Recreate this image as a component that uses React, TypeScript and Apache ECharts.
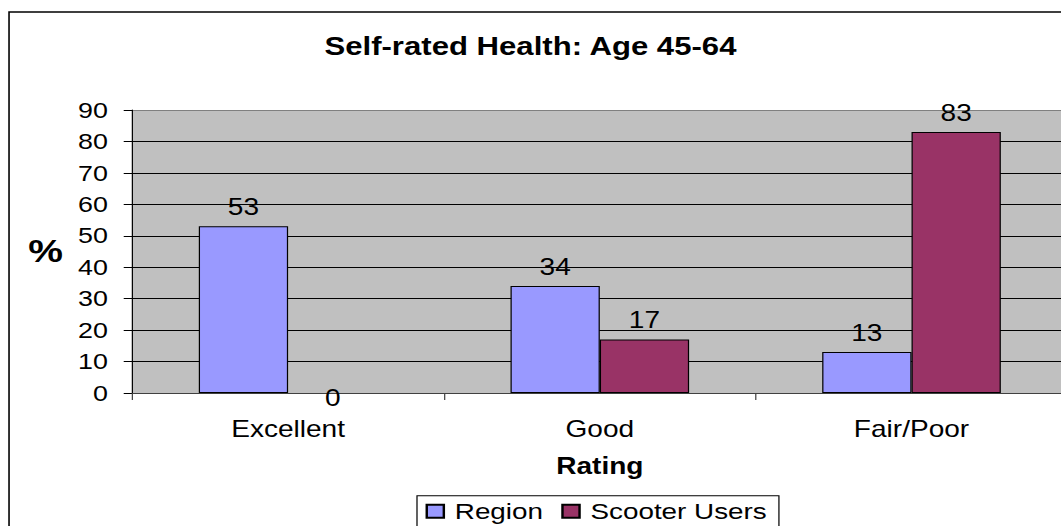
import React, { useEffect, useRef } from "react";
import * as echarts from "echarts";

const categories = ["Excellent", "Good", "Fair/Poor"];
const regionValues = [53, 34, 13];
const scooterValues = [0, 17, 83];
const seriesNames = ["Region", "Scooter Users"];
const chartTitle = "Self-rated Health: Age 45-64";
const xAxisName = "Rating";
const yAxisName = "%";
const yMin = 0;
const yMax = 90;
const yInterval = 10;

const SX = 1.22; // horizontal stretch of the reference
const W = 880;
const H = 526;
const FONT = "'Liberation Sans', Arial, sans-serif";

export default function App() {
  const ref = useRef<HTMLDivElement>(null);
  useEffect(() => {
    if (!ref.current) return;
    const chart = echarts.init(ref.current, undefined, { renderer: "svg" });
    const splitColors = Array.from({ length: (yMax - yMin) / yInterval + 1 }, (_, i) =>
      i === (yMax - yMin) / yInterval ? "#808080" : "#000000"
    );
    const mkData = (arr: number[]) =>
      arr.map((v) =>
        v === 0
          ? {
              value: v,
              itemStyle: { borderWidth: 0 },
              label: { position: "bottom", distance: -7 },
            }
          : v
      );
    chart.setOption({
      animation: false,
      backgroundColor: "#ffffff",
      textStyle: { fontFamily: FONT, color: "#000" },
      title: {
        text: chartTitle,
        left: 434.8,
        textAlign: "center",
        top: 33,
        padding: 0,
        textStyle: { fontFamily: FONT, fontSize: 25.5, fontWeight: "bold", color: "#000" },
      },
      graphic: [
        {
          type: "rect",
          shape: { x: 7.4, y: 12, width: 1000, height: 700 },
          style: { fill: "none", stroke: "#000", lineWidth: 1.3 },
          silent: true,
          z: 100,
        },
        {
          type: "text",
          x: 37.3,
          y: 251,
          style: {
            text: yAxisName,
            font: `bold 32px ${FONT}`,
            fill: "#000",
            textAlign: "center",
            textVerticalAlign: "middle",
          },
        },
      ],
      legend: {
        data: seriesNames,
        left: 341.8,
        top: 495.7,
        orient: "horizontal",
        borderColor: "#000",
        borderWidth: 1,
        padding: [4, 10, 12, 7],
        itemGap: 15,
        itemWidth: 14,
        itemHeight: 13,
        icon: "rect",
        textStyle: { fontFamily: FONT, fontSize: 22.8, color: "#000", padding: [0, 0, 0, 4] },
      },
      grid: {
        left: 108.4,
        right: W - 874.9,
        top: 110,
        bottom: H - 393,
        show: true,
        backgroundColor: "#C0C0C0",
        borderWidth: 0,
        containLabel: false,
      },
      xAxis: {
        type: "category",
        data: categories,
        name: xAxisName,
        nameLocation: "middle",
        nameGap: 61,
        nameTextStyle: { fontFamily: FONT, fontSize: 23, fontWeight: "bold", color: "#000" },
        axisLine: { show: true, lineStyle: { color: "#404040", width: 1 } },
        axisTick: { show: true, length: 7, lineStyle: { color: "#404040" } },
        axisLabel: { fontFamily: FONT, fontSize: 23, color: "#000", margin: 24 },
        splitLine: { show: false },
      },
      yAxis: {
        type: "value",
        min: yMin,
        max: yMax,
        interval: yInterval,
        axisLine: { show: true, lineStyle: { color: "#000", width: 1 } },
        axisTick: { show: true, length: 7, lineStyle: { color: "#000" } },
        axisLabel: { fontFamily: FONT, fontSize: 22, color: "#000", margin: 20 },
        splitLine: { show: true, lineStyle: { color: splitColors, width: 1 } },
      },
      series: [
        {
          name: seriesNames[0],
          type: "bar",
          data: mkData(regionValues),
          barGap: "0%",
          barCategoryGap: "42.7%",
          itemStyle: { color: "#9999FF", borderColor: "#000", borderWidth: 1 },
          label: {
            show: true,
            position: "top",
            distance: 8,
            fontFamily: FONT,
            fontSize: 23,
            color: "#000",
          },
        },
        {
          name: seriesNames[1],
          type: "bar",
          data: mkData(scooterValues),
          barGap: "0%",
          barCategoryGap: "42.7%",
          itemStyle: { color: "#993366", borderColor: "#000", borderWidth: 1 },
          label: {
            show: true,
            position: "top",
            distance: 8,
            fontFamily: FONT,
            fontSize: 23,
            color: "#000",
          },
        },
      ],
    });
    return () => chart.dispose();
  }, []);

  return (
    <div
      style={{
        position: "fixed",
        left: 0,
        top: 0,
        width: 1061,
        height: 526,
        overflow: "hidden",
        background: "#fff",
      }}
    >
      <div
        ref={ref}
        style={{
          width: W,
          height: H,
          transform: `scaleX(${SX})`,
          transformOrigin: "0 0",
        }}
      />
    </div>
  );
}
